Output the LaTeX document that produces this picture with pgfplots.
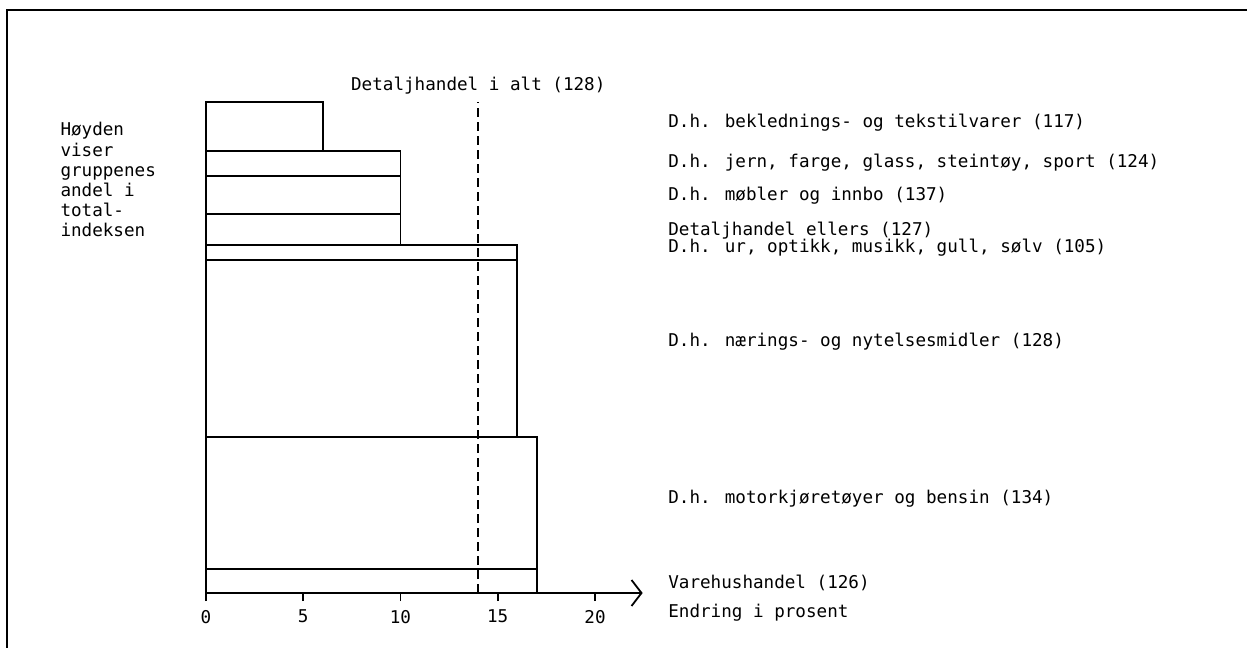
\documentclass[border=0pt]{standalone}
\usepackage{fontspec}
\setmainfont{DejaVu Sans Mono}
\usepackage{pgfplots}
\pgfplotsset{compat=1.18}
\usepackage{pgfplotstable}
\usetikzlibrary{arrows.meta}

% lower edge of each group (share of total index, %) and change in percent
\pgfplotstableread{
share value
0     17
4.9   17
31.8  16
67.8  16
70.9  10
77.2  10
84.9  10
90.0  6
100   6
}\groups

\begin{document}
\begin{tikzpicture}[font=\fontsize{8.8bp}{9bp}\selectfont]
\useasboundingbox (-103bp,-27.5bp) rectangle (520.5bp,296.5bp);
\begin{axis}[
    at={(0,0)}, anchor=origin,
    x=9.725bp, y=2.455bp,
    xmin=0, xmax=22.45, ymin=0, ymax=100,
    enlargelimits=false,
    axis x line=bottom, axis y line=none,
    x axis line style={line width=0.9pt, -{Straight Barb[length=5bp, width=13bp, line width=0.9pt]}},
    xtick={0,5,10,15,20},
    tick align=outside,
    major tick length=4bp,
    tick style={black, line width=0.9pt},
    /pgf/number format/assume math mode=true,
    xticklabel style={yshift=-1bp},
    clip=false,
]
\addplot[xbar interval, draw=black, fill=none, line width=0.9pt] table[x=value, y=share] {\groups};
\addplot[black, line width=0.9pt, dash pattern=on 4.5bp off 2.5bp] coordinates {(14,0) (14,100)};

\node[inner sep=0pt] at (axis cs:14,103.3) {Detaljhandel i alt (128)};
\node[inner sep=0pt, anchor=north west, align=left, font=\fontsize{8.8bp}{10.1bp}\selectfont] at (axis cs:-7.5,95.9)
  {Høyden\\viser\\gruppenes\\andel i\\total-\\indeksen};

\node[inner sep=0pt, anchor=west] at (axis cs:23.75,95.7) {D.h. beklednings- og tekstilvarer (117)};
\node[inner sep=0pt, anchor=west] at (axis cs:23.75,87.6) {D.h. jern, farge, glass, steintøy, sport (124)};
\node[inner sep=0pt, anchor=west] at (axis cs:23.75,80.9) {D.h. møbler og innbo (137)};
\node[inner sep=0pt, anchor=west] at (axis cs:23.75,73.9) {Detaljhandel ellers (127)};
\node[inner sep=0pt, anchor=west] at (axis cs:23.75,70.3) {D.h. ur, optikk, musikk, gull, sølv (105)};
\node[inner sep=0pt, anchor=west] at (axis cs:23.75,51.2) {D.h. nærings- og nytelsesmidler (128)};
\node[inner sep=0pt, anchor=west] at (axis cs:23.75,19.3) {D.h. motorkjøretøyer og bensin (134)};
\node[inner sep=0pt, anchor=west] at (axis cs:23.75,2.1) {Varehushandel (126)};
\node[inner sep=0pt, anchor=west] at (axis cs:23.75,-4.1) {Endring i prosent};

\draw[line width=1pt] (axis cs:-10.23,-30) -- (axis cs:-10.23,118.7) -- (axis cs:60,118.7);
\end{axis}
\end{tikzpicture}
\end{document}
